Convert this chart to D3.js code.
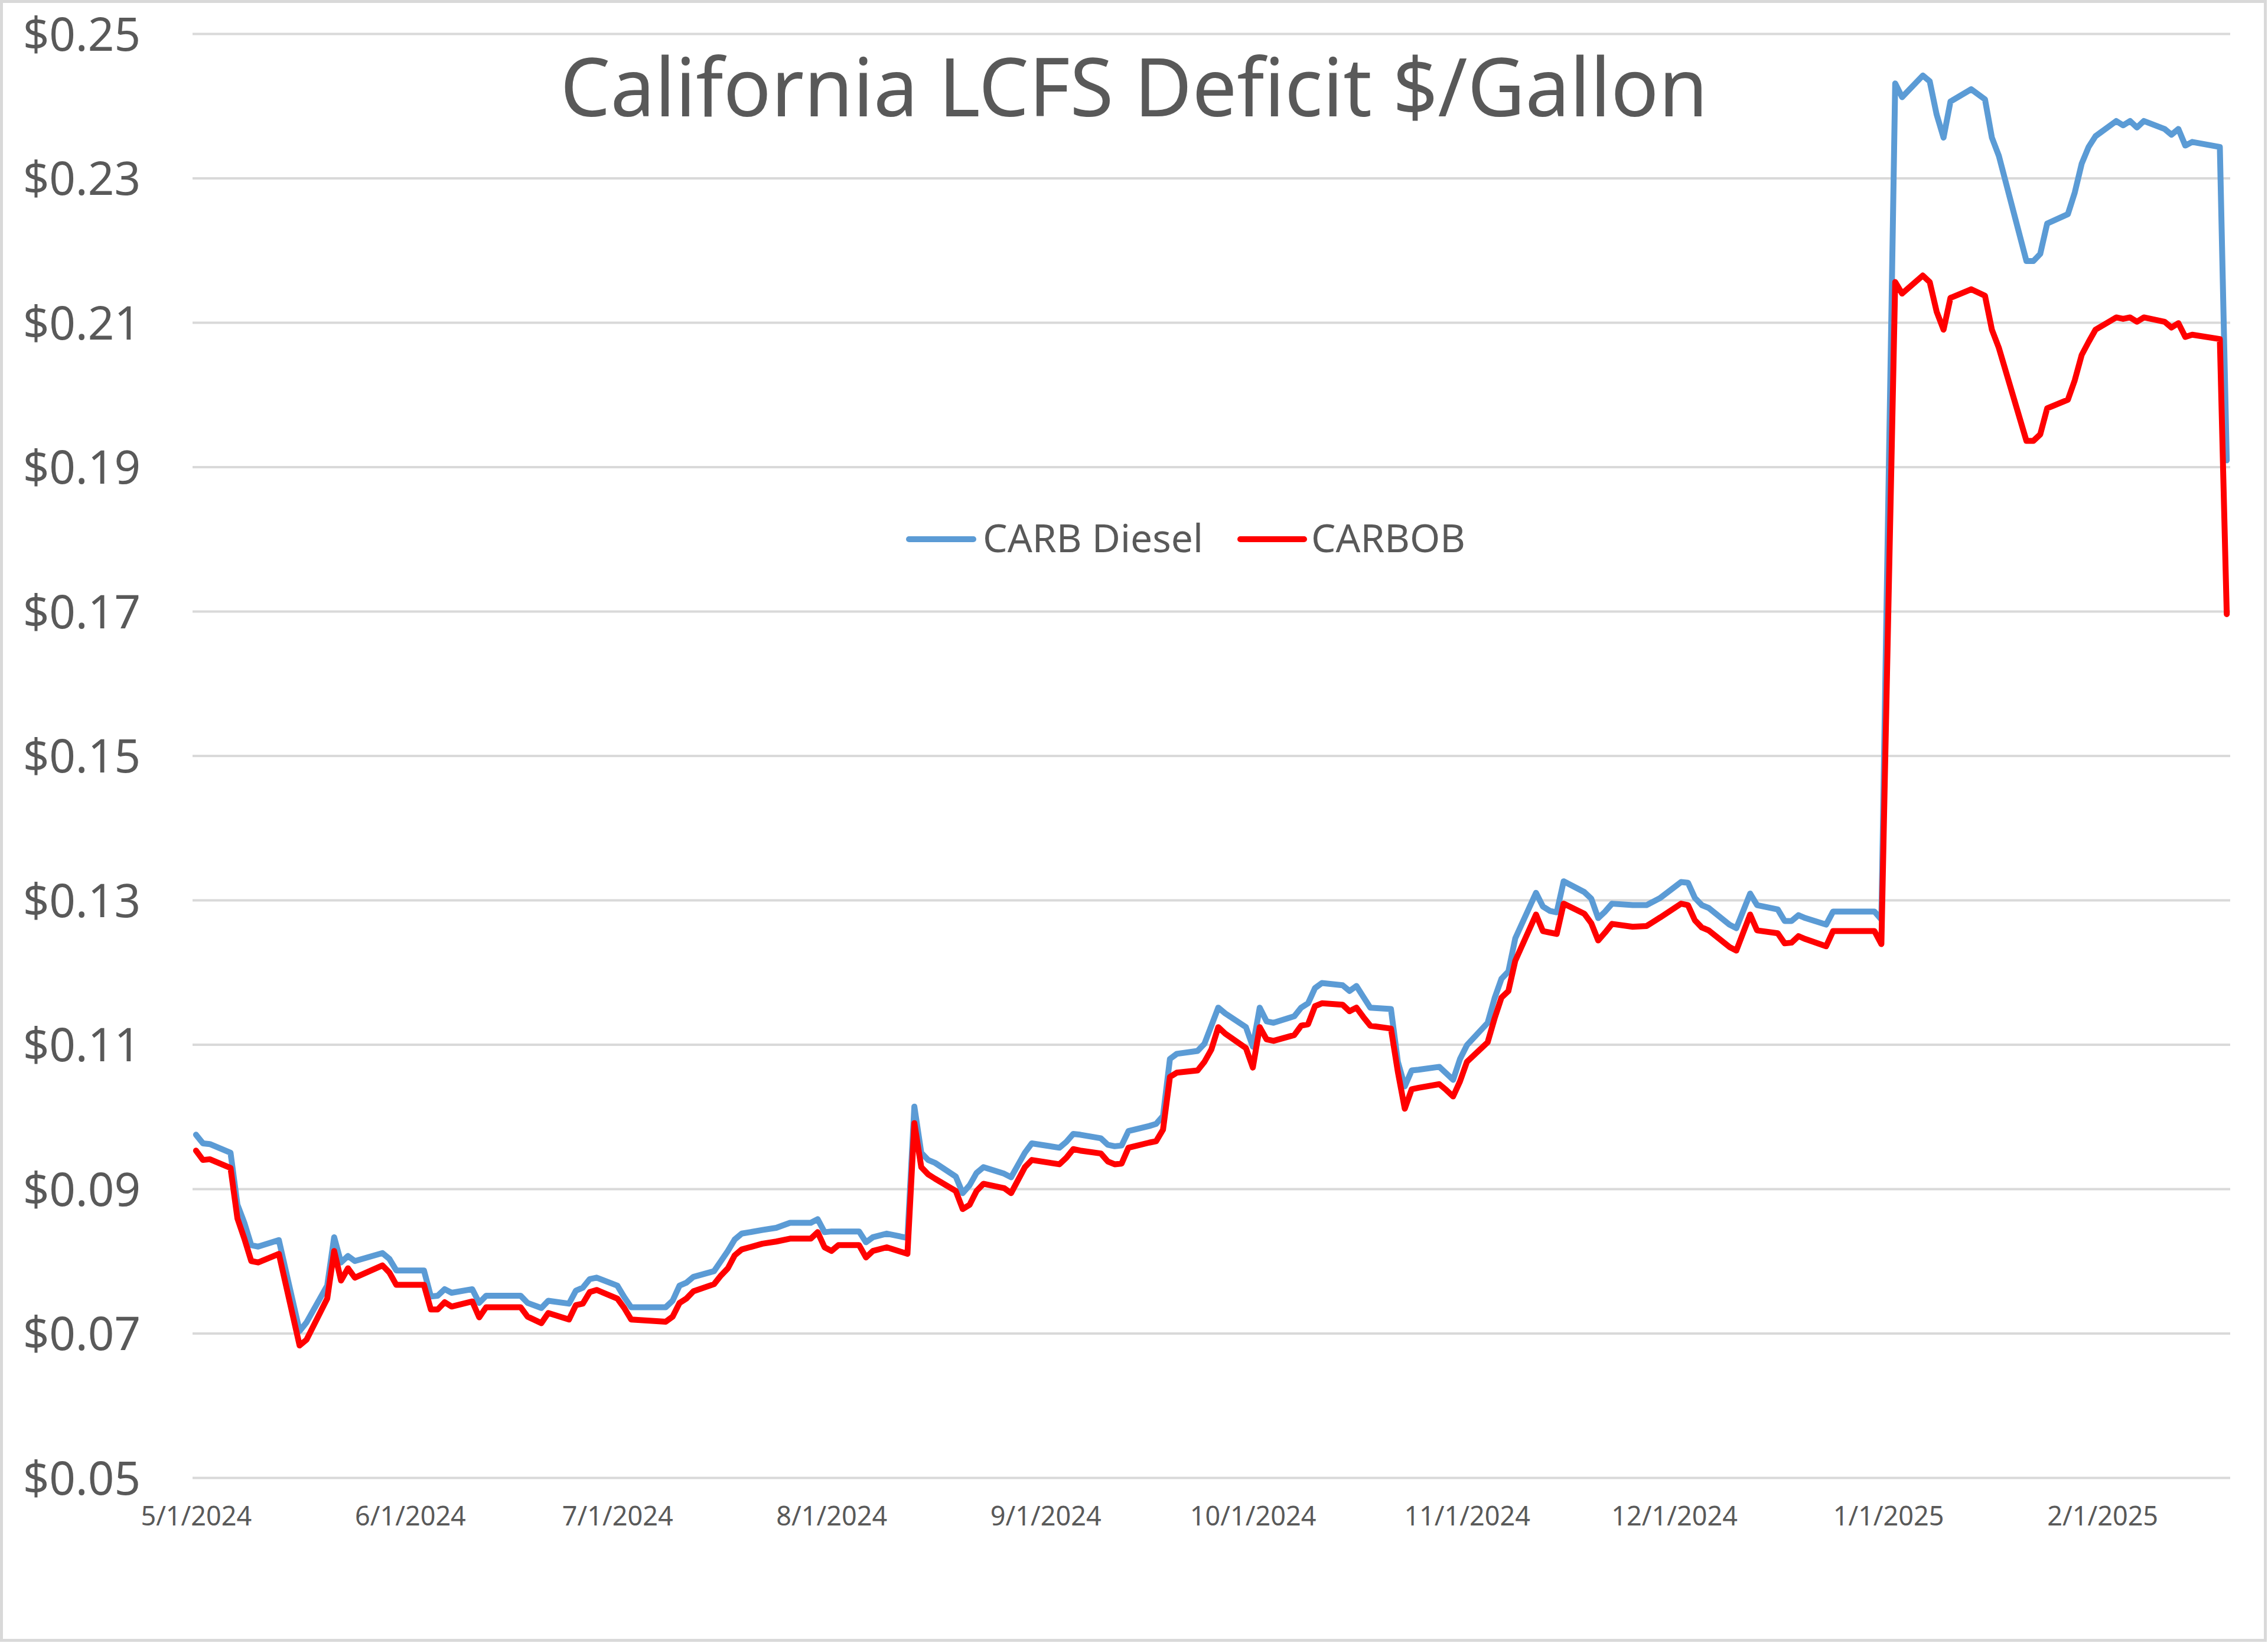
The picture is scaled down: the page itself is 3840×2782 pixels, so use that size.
<!DOCTYPE html>
<html>
<head>
<meta charset="utf-8">
<script src="https://cdn.jsdelivr.net/npm/d3@7"></script>
<style>
html, body { margin: 0; padding: 0; background: #ffffff; }
svg { display: block; }
</style>
</head>
<body>
<script>
// ---------------- DATA ----------------
const chartTitle = "California LCFS Deficit $/Gallon";
const seriesNames = ["CARB Diesel", "CARBOB"];
const seriesColors = ["#5B9BD5", "#FF0000"];

const dates = [
"2024-05-01","2024-05-02","2024-05-03","2024-05-06","2024-05-07","2024-05-08","2024-05-09","2024-05-10","2024-05-13","2024-05-16","2024-05-17","2024-05-20","2024-05-21","2024-05-22","2024-05-23","2024-05-24","2024-05-28","2024-05-29","2024-05-30","2024-05-31",
"2024-06-03","2024-06-04","2024-06-05","2024-06-06","2024-06-07","2024-06-10","2024-06-11","2024-06-12","2024-06-17","2024-06-18","2024-06-20","2024-06-21","2024-06-24","2024-06-25","2024-06-26","2024-06-27","2024-06-28",
"2024-07-01","2024-07-02","2024-07-03","2024-07-08","2024-07-09","2024-07-10","2024-07-11","2024-07-12","2024-07-15","2024-07-16","2024-07-17","2024-07-18","2024-07-19","2024-07-22","2024-07-24","2024-07-26","2024-07-29","2024-07-30","2024-07-31",
"2024-08-01","2024-08-02","2024-08-05","2024-08-06","2024-08-07","2024-08-09","2024-08-12","2024-08-13","2024-08-14","2024-08-15","2024-08-16","2024-08-19","2024-08-20","2024-08-21","2024-08-22","2024-08-23","2024-08-26","2024-08-27","2024-08-28","2024-08-29","2024-08-30",
"2024-09-03","2024-09-04","2024-09-05","2024-09-06","2024-09-09","2024-09-10","2024-09-11","2024-09-12","2024-09-13","2024-09-16","2024-09-17","2024-09-18","2024-09-19","2024-09-20","2024-09-23","2024-09-24","2024-09-25","2024-09-26","2024-09-27","2024-09-30",
"2024-10-01","2024-10-02","2024-10-03","2024-10-04","2024-10-07","2024-10-08","2024-10-09","2024-10-10","2024-10-11","2024-10-14","2024-10-15","2024-10-16","2024-10-17","2024-10-18","2024-10-21","2024-10-22","2024-10-23","2024-10-24","2024-10-25","2024-10-28","2024-10-29","2024-10-30","2024-10-31",
"2024-11-01","2024-11-04","2024-11-05","2024-11-06","2024-11-07","2024-11-08","2024-11-11","2024-11-12","2024-11-13","2024-11-14","2024-11-15","2024-11-18","2024-11-19","2024-11-20","2024-11-21","2024-11-22","2024-11-25","2024-11-27","2024-11-29",
"2024-12-02","2024-12-03","2024-12-04","2024-12-05","2024-12-06","2024-12-09","2024-12-10","2024-12-12","2024-12-13","2024-12-16","2024-12-17","2024-12-18","2024-12-19","2024-12-20","2024-12-23","2024-12-24","2024-12-30","2024-12-31",
"2025-01-02","2025-01-03","2025-01-06","2025-01-07","2025-01-08","2025-01-09","2025-01-10","2025-01-13","2025-01-15","2025-01-16","2025-01-17","2025-01-21","2025-01-22","2025-01-23","2025-01-24","2025-01-27","2025-01-28","2025-01-29","2025-01-30","2025-01-31",
"2025-02-03","2025-02-04","2025-02-05","2025-02-06","2025-02-07","2025-02-10","2025-02-11","2025-02-12","2025-02-13","2025-02-14","2025-02-18","2025-02-19"
];

const carbDiesel = [
0.0975,0.0963,0.0962,0.0950,0.0878,0.0853,0.0822,0.0820,0.0829,0.0703,0.0715,0.0766,0.0833,0.0798,0.0807,0.0800,0.0811,0.0803,0.0787,0.0787,
0.0787,0.0751,0.0752,0.0761,0.0756,0.0761,0.0742,0.0752,0.0752,0.0742,0.0735,0.0745,0.0741,0.0759,0.0763,0.0775,0.0777,
0.0766,0.0750,0.0736,0.0736,0.0745,0.0766,0.0770,0.0778,0.0786,0.0800,0.0814,0.0830,0.0838,0.0843,0.0846,0.0853,0.0853,0.0858,0.0840,
0.0841,0.0841,0.0841,0.0826,0.0833,0.0838,0.0832,0.1014,0.0950,0.0940,0.0936,0.0917,0.0894,0.0905,0.0922,0.0930,0.0921,0.0916,0.0933,0.0950,0.0963,
0.0957,0.0965,0.0976,0.0975,0.0970,0.0961,0.0959,0.0960,0.0980,0.0987,0.0990,0.1001,0.1080,0.1087,0.1091,0.1101,0.1126,0.1151,0.1143,0.1124,
0.1097,0.1151,0.1132,0.1130,0.1139,0.1151,0.1157,0.1178,0.1185,0.1182,0.1174,0.1181,0.1166,0.1151,0.1149,0.1076,0.1042,0.1064,0.1065,0.1069,0.1060,0.1051,0.1080,
0.1099,0.1130,0.1164,0.1191,0.1201,0.1247,0.1310,0.1291,0.1285,0.1283,0.1326,0.1311,0.1302,0.1275,0.1284,0.1295,0.1293,0.1293,0.1303,
0.1325,0.1324,0.1303,0.1293,0.1289,0.1266,0.1261,0.1309,0.1293,0.1287,0.1271,0.1271,0.1279,0.1275,0.1266,0.1284,0.1284,0.1273,
0.2431,0.2412,0.2442,0.2434,0.2388,0.2356,0.2406,0.2423,0.2409,0.2356,0.2331,0.2185,0.2185,0.2195,0.2237,0.2250,0.2280,0.2320,0.2343,0.2358,
0.2379,0.2373,0.2379,0.2370,0.2379,0.2368,0.2360,0.2368,0.2345,0.2350,0.2343,0.1909
];

const carbob = [
0.0953,0.0940,0.0941,0.0929,0.0859,0.0831,0.0800,0.0798,0.0810,0.0683,0.0691,0.0748,0.0814,0.0773,0.0790,0.0777,0.0794,0.0784,0.0767,0.0767,
0.0767,0.0733,0.0733,0.0743,0.0737,0.0744,0.0722,0.0736,0.0736,0.0723,0.0714,0.0728,0.0719,0.0739,0.0741,0.0757,0.0760,
0.0748,0.0735,0.0719,0.0716,0.0723,0.0742,0.0748,0.0758,0.0768,0.0780,0.0790,0.0808,0.0816,0.0824,0.0827,0.0831,0.0831,0.0840,0.0819,
0.0814,0.0822,0.0822,0.0805,0.0814,0.0819,0.0810,0.0991,0.0930,0.0920,0.0914,0.0897,0.0872,0.0878,0.0897,0.0907,0.0901,0.0894,0.0912,0.0930,0.0940,
0.0934,0.0943,0.0955,0.0953,0.0949,0.0938,0.0934,0.0935,0.0957,0.0964,0.0966,0.0982,0.1055,0.1061,0.1064,0.1076,0.1093,0.1124,0.1115,0.1095,
0.1068,0.1124,0.1107,0.1105,0.1113,0.1126,0.1128,0.1153,0.1157,0.1155,0.1146,0.1151,0.1138,0.1126,0.1122,0.1062,0.1011,0.1038,0.1040,0.1045,0.1037,0.1028,0.1049,
0.1076,0.1103,0.1136,0.1165,0.1174,0.1216,0.1280,0.1257,0.1255,0.1253,0.1295,0.1281,0.1268,0.1244,0.1255,0.1267,0.1263,0.1264,0.1276,
0.1295,0.1293,0.1272,0.1262,0.1258,0.1235,0.1230,0.1280,0.1258,0.1254,0.1240,0.1241,0.1250,0.1246,0.1236,0.1257,0.1257,0.1239,
0.2156,0.2140,0.2165,0.2156,0.2115,0.2090,0.2134,0.2146,0.2137,0.2090,0.2065,0.1936,0.1936,0.1945,0.1981,0.1993,0.2020,0.2055,0.2073,0.2090,
0.2107,0.2105,0.2107,0.2101,0.2107,0.2101,0.2093,0.2099,0.2080,0.2083,0.2077,0.1696
];

const yTickValues = [0.05, 0.07, 0.09, 0.11, 0.13, 0.15, 0.17, 0.19, 0.21, 0.23, 0.25];
const xTickDates = ["2024-05-01","2024-06-01","2024-07-01","2024-08-01","2024-09-01","2024-10-01","2024-11-01","2024-12-01","2025-01-01","2025-02-01"];
const xTickLabels = ["5/1/2024","6/1/2024","7/1/2024","8/1/2024","9/1/2024","10/1/2024","11/1/2024","12/1/2024","1/1/2025","2/1/2025"];
const xDomain = ["2024-04-30T12:00:00Z", "2025-02-19T12:00:00Z"];

// ---------------- LAYOUT ----------------
const W = 3840, H = 2782;
const plot = { left: 326, right: 3776, top: 57, bottom: 2502 };
const textColor = "#595959";
const fontFamily = "'Noto Sans', 'Open Sans', sans-serif";

const parse = d3.utcParse("%Y-%m-%d");

const svg = d3.select("body").append("svg")
  .attr("width", W).attr("height", H)
  .attr("viewBox", `0 0 ${W} ${H}`);

svg.append("rect").attr("x", 0).attr("y", 0).attr("width", W).attr("height", H).attr("fill", "#ffffff");
svg.append("rect")
  .attr("x", 2.5).attr("y", 2.5).attr("width", W - 7).attr("height", H - 7)
  .attr("fill", "none").attr("stroke", "#D9D9D9").attr("stroke-width", 5);

const x = d3.scaleUtc()
  .domain(xDomain.map(s => new Date(s)))
  .range([plot.left, plot.right]);

const y = d3.scaleLinear()
  .domain([0.05, 0.25])
  .range([plot.bottom, plot.top]);

// gridlines via axis
const yAxis = d3.axisLeft(y)
  .tickValues(yTickValues)
  .tickSize(-(plot.right - plot.left))
  .tickPadding(88)
  .tickFormat(d => "$" + d3.format(".2f")(d));

const gy = svg.append("g")
  .attr("transform", `translate(${plot.left},0)`)
  .call(yAxis);
gy.select(".domain").remove();
gy.selectAll(".tick line").attr("stroke", "#D9D9D9").attr("stroke-width", 4);
gy.selectAll(".tick text")
  .attr("fill", textColor)
  .attr("font-family", fontFamily)
  .attr("font-size", 78)
  .attr("dy", "0.36em");

// x axis labels
const xAxis = d3.axisBottom(x)
  .tickValues(xTickDates.map(parse))
  .tickSize(0)
  .tickPadding(0)
  .tickFormat((d, i) => xTickLabels[i]);

const gx = svg.append("g")
  .attr("transform", `translate(0,${plot.bottom})`)
  .call(xAxis);
gx.select(".domain").remove();
gx.selectAll(".tick text")
  .attr("fill", textColor)
  .attr("font-family", fontFamily)
  .attr("font-size", 45)
  .attr("y", 81)
  .attr("dy", 0);

// series lines
const seriesData = [carbDiesel, carbob];
const line = d3.line()
  .x((d, i) => x(parse(dates[i])))
  .y(d => y(d));

seriesData.forEach((vals, k) => {
  svg.append("path")
    .datum(vals)
    .attr("fill", "none")
    .attr("stroke", seriesColors[k])
    .attr("stroke-width", 10)
    .attr("stroke-linejoin", "round")
    .attr("stroke-linecap", "round")
    .attr("d", line);
});

// title
svg.append("text")
  .attr("x", W / 2)
  .attr("y", 197)
  .attr("text-anchor", "middle")
  .attr("fill", textColor)
  .attr("font-family", fontFamily)
  .attr("font-size", 138)
  .attr("textLength", 1943)
  .attr("lengthAdjust", "spacingAndGlyphs")
  .text(chartTitle);

// legend
const legendItems = [
  { x0: 1539, x1: 1648, tx: 1664, tw: 373 },
  { x0: 2100, x1: 2208, tx: 2220, tw: 261 }
];
const lg = svg.append("g");
legendItems.forEach((it, k) => {
  lg.append("line")
    .attr("x1", it.x0).attr("x2", it.x1)
    .attr("y1", 913).attr("y2", 913)
    .attr("stroke", seriesColors[k])
    .attr("stroke-width", 10)
    .attr("stroke-linecap", "round");
  lg.append("text")
    .attr("x", it.tx).attr("y", 935)
    .attr("fill", textColor)
    .attr("font-family", fontFamily)
    .attr("font-size", 66)
    .attr("textLength", it.tw)
    .attr("lengthAdjust", "spacingAndGlyphs")
    .text(seriesNames[k]);
});
</script>
</body>
</html>
